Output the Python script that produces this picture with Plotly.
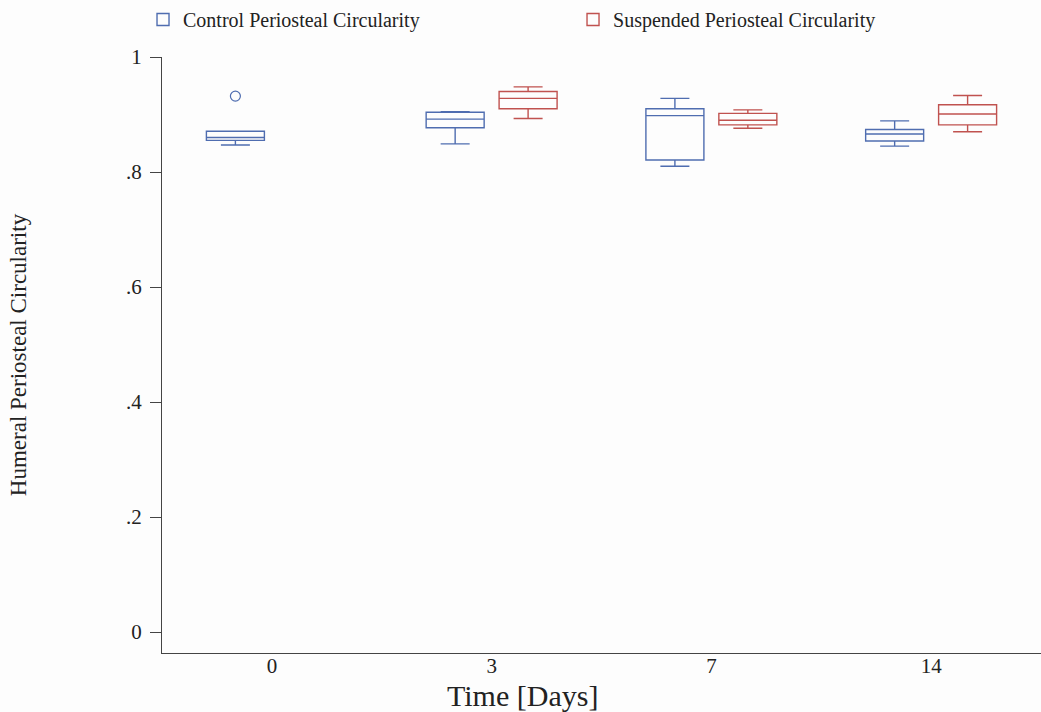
import plotly.graph_objects as go

# Time points (days) and precomputed box statistics for each group
days = ["0", "3", "7", "14"]

ctrl_q1 = [0.855, 0.877, 0.821, 0.854]
ctrl_median = [0.860, 0.892, 0.898, 0.866]
ctrl_q3 = [0.871, 0.904, 0.910, 0.874]
ctrl_low = [0.847, 0.849, 0.810, 0.845]
ctrl_high = [0.871, 0.905, 0.928, 0.889]
ctrl_points = [[0.932], [], [], []]

susp_days = ["3", "7", "14"]
susp_q1 = [0.910, 0.882, 0.882]
susp_median = [0.928, 0.890, 0.901]
susp_q3 = [0.940, 0.902, 0.917]
susp_low = [0.893, 0.876, 0.870]
susp_high = [0.948, 0.908, 0.933]

ctrl_color = "#4f6db0"
susp_color = "#c0524f"
serif = "Liberation Serif, Times New Roman, serif"

fig = go.Figure()
fig.add_trace(go.Box(
    name="Control Periosteal Circularity",
    x=days, y=ctrl_points,
    q1=ctrl_q1, median=ctrl_median, q3=ctrl_q3,
    lowerfence=ctrl_low, upperfence=ctrl_high,
    boxpoints="outliers",
    line=dict(color=ctrl_color, width=1.4),
    fillcolor="rgba(0,0,0,0)",
    marker=dict(symbol="circle-open", size=10, color=ctrl_color, line=dict(width=1.2)),
    whiskerwidth=0.5,
    legend="legend",
))
fig.add_trace(go.Box(
    name="Suspended Periosteal Circularity",
    x=susp_days,
    q1=susp_q1, median=susp_median, q3=susp_q3,
    lowerfence=susp_low, upperfence=susp_high,
    line=dict(color=susp_color, width=1.4),
    fillcolor="rgba(0,0,0,0)",
    whiskerwidth=0.5,
    legend="legend2",
))

legend_style = dict(orientation="h", yanchor="middle", y=1.0638, xanchor="left",
                    font=dict(size=20, family=serif), bgcolor="rgba(0,0,0,0)",
                    itemwidth=30)

fig.update_layout(
    width=1041, height=712,
    paper_bgcolor="#fdfdfd", plot_bgcolor="#fdfdfd",
    font=dict(family=serif, color="#222222", size=18),
    margin=dict(l=162, r=0, t=57, b=59),
    boxmode="group", boxgap=0.336, boxgroupgap=0.205,
    showlegend=True,
    legend=dict(x=-0.0216, **legend_style),
    legend2=dict(x=0.4676, **legend_style),
    xaxis=dict(
        type="category", categoryorder="array", categoryarray=days,
        range=[-0.5, 3.5],
        showline=True, linecolor="#444444", linewidth=1.2,
        ticks="", showgrid=False, zeroline=False,
        tickfont=dict(size=21, family=serif),
        ticklabelstandoff=-6,
    ),
    yaxis=dict(
        range=[-0.0365, 1.0],
        tickvals=[0, 0.2, 0.4, 0.6, 0.8, 1.0],
        ticktext=["0", ".2", ".4", ".6", ".8", "1"],
        showline=True, linecolor="#444444", linewidth=1.2,
        ticks="outside", ticklen=11, tickcolor="#444444", tickwidth=1.2,
        ticklabelstandoff=4,
        showgrid=False, zeroline=False,
        tickfont=dict(size=21, family=serif),
        title=dict(text="Humeral Periosteal Circularity", font=dict(size=23, family=serif),
                   standoff=92),
    ),
    annotations=[dict(
        text="Time [Days]", xref="paper", yref="paper",
        x=0.41, y=-0.071, xanchor="center", yanchor="middle",
        showarrow=False, font=dict(size=30, family=serif),
    )],
)

fig.write_html("out.html")
